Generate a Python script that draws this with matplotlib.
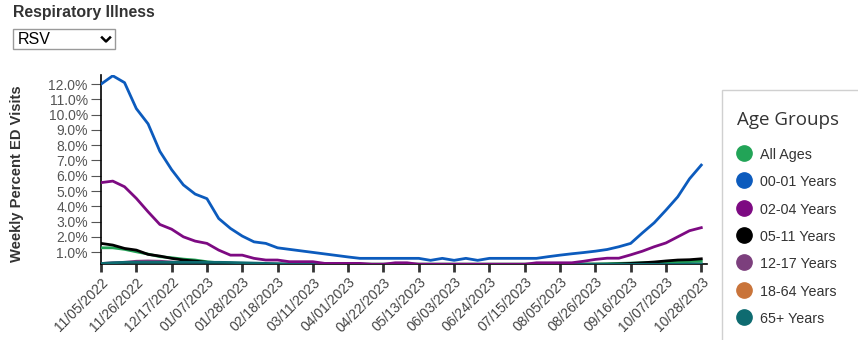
import numpy as np
import pandas as pd
import matplotlib
matplotlib.use("Agg")
import matplotlib.pyplot as plt
import matplotlib.dates as mdates
from matplotlib.lines import Line2D
from matplotlib.patches import Rectangle

# weekly RSV share of ED visits (%), weeks ending 11/05/2022 .. 10/28/2023
weeks = pd.date_range("2022-11-05", periods=52, freq="7D")

all_ages = [1.28, 1.28, 1.18, 1.02, 0.87, 0.70, 0.63, 0.54, 0.48, 0.37,
            0.30, 0.25, 0.22, 0.20, 0.20, 0.20, 0.20, 0.20, 0.20, 0.20,
            0.20, 0.20, 0.20, 0.20, 0.20, 0.20, 0.20, 0.20, 0.20, 0.20,
            0.20, 0.20, 0.20, 0.20, 0.20, 0.20, 0.20, 0.20, 0.20, 0.20,
            0.20, 0.22, 0.22, 0.24, 0.26, 0.28, 0.30, 0.32, 0.34, 0.36,
            0.38, 0.40]
age_00_01 = [12.0, 12.55, 12.1, 10.4, 9.4, 7.6, 6.4, 5.4, 4.8, 4.5,
             3.2, 2.55, 2.05, 1.67, 1.57, 1.28, 1.18, 1.08, 0.98, 0.88,
             0.78, 0.68, 0.59, 0.59, 0.59, 0.59, 0.59, 0.59, 0.46, 0.59,
             0.46, 0.59, 0.46, 0.59, 0.59, 0.59, 0.59, 0.59, 0.70, 0.80,
             0.89, 0.97, 1.06, 1.17, 1.35, 1.57, 2.26, 2.92, 3.75, 4.62,
             5.80, 6.70]
age_02_04 = [5.55, 5.65, 5.28, 4.52, 3.64, 2.81, 2.50, 2.00, 1.72, 1.57,
             1.13, 0.80, 0.80, 0.59, 0.48, 0.48, 0.37, 0.37, 0.37, 0.26,
             0.26, 0.26, 0.26, 0.20, 0.20, 0.30, 0.30, 0.20, 0.20, 0.20,
             0.20, 0.20, 0.20, 0.20, 0.20, 0.20, 0.20, 0.30, 0.30, 0.30,
             0.30, 0.40, 0.52, 0.60, 0.60, 0.82, 1.06, 1.35, 1.60, 2.00,
             2.40, 2.60]
age_05_11 = [1.57, 1.46, 1.24, 1.13, 0.85, 0.74, 0.59, 0.48, 0.41, 0.33,
             0.27, 0.22, 0.20, 0.20, 0.20, 0.20, 0.20, 0.20, 0.20, 0.20,
             0.20, 0.20, 0.20, 0.20, 0.20, 0.20, 0.20, 0.20, 0.20, 0.20,
             0.20, 0.20, 0.20, 0.20, 0.20, 0.20, 0.20, 0.20, 0.20, 0.20,
             0.20, 0.20, 0.20, 0.20, 0.22, 0.26, 0.30, 0.35, 0.42, 0.48,
             0.50, 0.56]
age_12_17 = [0.25, 0.30, 0.33, 0.40, 0.42, 0.40, 0.35, 0.30, 0.25, 0.22] + [0.20] * 42
age_18_64 = [0.22] * 11 + [0.20] * 41
age_65 = [0.25, 0.30, 0.33, 0.33, 0.33, 0.33, 0.33, 0.33, 0.33, 0.33,
          0.33, 0.32, 0.30, 0.28, 0.26, 0.24, 0.22] + [0.20] * 33 + [0.22, 0.22]

groups = ["All Ages", "00-01 Years", "02-04 Years", "05-11 Years",
          "12-17 Years", "18-64 Years", "65+ Years"]
series = [all_ages, age_00_01, age_02_04, age_05_11, age_12_17, age_18_64, age_65]
colors = ["#22a457", "#0c5bbd", "#7d0a82", "#000000", "#7c3f7d", "#c9743a", "#0e6b70"]
zorders = [3, 5, 6, 4, 2, 1, 4.5]

W, H = 858, 340
fig = plt.figure(figsize=(W / 100, H / 100), dpi=100)
ax = fig.add_axes([101 / W, 1 - 264 / H, 606 / W, (264 - 75) / H])

for vals, c, name, z in zip(series, colors, groups, zorders):
    ax.plot(weeks, vals, color=c, lw=2, zorder=z, label=name, solid_joinstyle="round")

ax.set_xlim(weeks[0], weeks[-1] + pd.Timedelta(days=3.4))
ax.set_ylim(0.22, 12.6)
ax.set_yticks(np.arange(1, 13))
ax.yaxis.set_major_formatter(matplotlib.ticker.FuncFormatter(lambda v, p: f"{v:.1f}%"))
ax.set_xticks(weeks[::3])
ax.xaxis.set_major_formatter(mdates.DateFormatter("%m/%d/%Y"))

for s in ["top", "right"]:
    ax.spines[s].set_visible(False)
ax.spines["left"].set_linewidth(1.2)
ax.spines["bottom"].set_linewidth(1.2)

ax.tick_params(axis="y", length=7, width=0.8, color="#555555", pad=2.5,
               labelsize=10, labelcolor="#555555")
ax.tick_params(axis="x", length=6, width=2, color="#333333", pad=2,
               labelsize=10, labelcolor="#444444")
for lbl in ax.get_yticklabels():
    lbl.set_family("Liberation Sans")
for lbl in ax.get_xticklabels():
    lbl.set_family("Liberation Sans")
    lbl.set_rotation(45)
    lbl.set_ha("right")
    lbl.set_va("top")
    lbl.set_rotation_mode("anchor")

fig.text(17 / W, 1 - 174 / H, "Weekly Percent ED Visits", rotation=90,
         ha="center", va="center", fontsize=10.6, fontweight="bold",
         family="Liberation Sans", color="#333333")

# header and dropdown
fig.text(13 / W, 1 - 17 / H, "Respiratory Illness", fontsize=11.4, fontweight="bold",
         family="Liberation Sans", color="#333333", va="baseline")
fig.add_artist(Rectangle((13 / W, 1 - 49 / H), 102 / W, 20 / H, transform=fig.transFigure,
                         facecolor="white", edgecolor="#9a9a9a", lw=1))
fig.text(18 / W, 1 - 39 / H, "RSV", fontsize=11.5, family="Liberation Sans",
         color="black", va="center")
fig.add_artist(Line2D([102 / W, 106 / W, 110 / W], [1 - 37.5 / H, 1 - 41.5 / H, 1 - 37.5 / H],
                      transform=fig.transFigure, color="black", lw=1.8))

# legend panel
fig.add_artist(Rectangle((722 / W, -0.1), 0.3, 1 - 90 / H + 0.1, transform=fig.transFigure,
                         facecolor="white", edgecolor="#d0d0d0", lw=1))
fig.text(737 / W, 1 - 125 / H, "Age Groups", fontsize=13.5, family="Open Sans",
         color="#333333", va="baseline")
for i, (name, c) in enumerate(zip(groups, colors)):
    yc = 155 + i * 27.3
    fig.add_artist(Line2D([744 / W], [1 - (yc - 2) / H], transform=fig.transFigure,
                          marker="o", markersize=11, color=c, markeredgecolor=c, lw=0))
    fig.text(760 / W, 1 - yc / H, name, fontsize=10.3, family="Liberation Sans",
             color="#333333", va="center")

fig.savefig("out.png", dpi=100)
